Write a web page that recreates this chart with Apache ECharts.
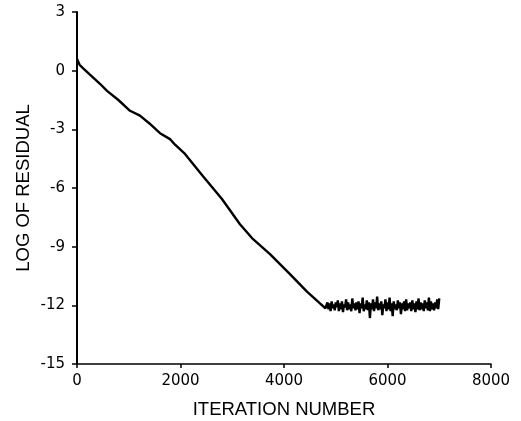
<!DOCTYPE html>
<html>
<head>
<meta charset="utf-8">
<script src="https://cdn.jsdelivr.net/npm/echarts@6/dist/echarts.min.js"></script>
<style>
  html, body { margin: 0; padding: 0; background: #fff; }
  #chart { width: 521px; height: 421px; }
</style>
</head>
<body>
<div id="chart"></div>
<script>
// decay part of the residual curve
var decayIter = [0, 50, 120, 250, 444, 580, 800, 1024, 1217, 1400, 1604, 1797, 1900, 2087,
  2435, 2801, 3149, 3381, 3729, 4115, 4444, 4695, 4800]
var decayLog = [0.6, 0.3, 0.12, -0.2, -0.67, -1.03, -1.5, -2.05, -2.3, -2.7, -3.2, -3.5, -3.8, -4.26,
  -5.4, -6.56, -7.85, -8.56, -9.38, -10.4, -11.3, -11.9, -12.15]

// noisy plateau after convergence
var plateauIter = [
  4820, 4840, 4860, 4880, 4900, 4920, 4940, 4960, 4980, 5000,
  5020, 5040, 5060, 5080, 5100, 5120, 5140, 5160, 5180, 5200,
  5220, 5240, 5260, 5280, 5300, 5320, 5340, 5360, 5380, 5400,
  5420, 5440, 5460, 5480, 5500, 5520, 5540, 5560, 5580, 5600,
  5620, 5640, 5660, 5680, 5700, 5720, 5740, 5760, 5780, 5800,
  5820, 5840, 5860, 5880, 5900, 5920, 5940, 5960, 5980, 6000,
  6020, 6040, 6060, 6080, 6100, 6120, 6140, 6160, 6180, 6200,
  6220, 6240, 6260, 6280, 6300, 6320, 6340, 6360, 6380, 6400,
  6420, 6440, 6460, 6480, 6500, 6520, 6540, 6560, 6580, 6600,
  6620, 6640, 6660, 6680, 6700, 6720, 6740, 6760, 6780, 6800,
  6820, 6840, 6860, 6880, 6900, 6920, 6940, 6960, 6980, 7000]
var plateauLog = [
  -12.25, -11.85, -12.2, -11.9, -12.3, -11.8, -12.15, -11.95, -12.25, -11.85,
  -12.1, -11.75, -12.3, -11.9, -12.2, -11.8, -12.35, -11.95, -12.1, -11.7,
  -12.25, -11.85, -12.2, -11.95, -12.3, -11.65, -12.15, -11.9, -12.25, -11.85,
  -12.2, -11.8, -12.4, -11.9, -12.15, -11.6, -12.3, -11.95, -12.2, -11.75,
  -12.25, -11.85, -12.65, -11.9, -12.2, -11.7, -12.3, -11.85, -12.15, -11.55,
  -12.25, -11.9, -12.2, -11.8, -12.5, -11.95, -12.15, -11.7, -12.3, -11.85,
  -12.2, -11.6, -12.3, -11.9, -12.55, -11.8, -12.2, -11.95, -12.25, -11.75,
  -12.15, -11.85, -12.45, -11.9, -12.2, -11.8, -12.3, -11.7, -12.25, -11.9,
  -12.15, -11.85, -12.3, -11.75, -12.2, -11.9, -12.35, -11.8, -12.2, -11.65,
  -12.25, -11.85, -12.2, -11.9, -12.3, -11.75, -12.15, -11.85, -12.25, -11.6,
  -12.3, -11.8, -12.2, -11.9, -12.25, -11.85, -12.15, -11.7, -12.2, -11.65]

var xTicks = [0, 2000, 4000, 6000, 8000]
var yTicks = [3, 0, -3, -6, -9, -12, -15]

var iters = decayIter.concat(plateauIter)
var logs = decayLog.concat(plateauLog)
var points = iters.map(function (x, i) { return [x, logs[i]] })

var chart = echarts.init(document.getElementById('chart'))
var tickFont = 'DejaVu Sans, Arial, sans-serif'
var nameFont = 'Liberation Sans, Arial, Helvetica, sans-serif'

chart.setOption({
  animation: false,
  grid: { left: 77, right: 30, top: 12, bottom: 57, outerBoundsMode: 'none' },
  xAxis: {
    type: 'value',
    min: xTicks[0],
    max: xTicks[xTicks.length - 1],
    interval: 2000,
    name: 'ITERATION NUMBER',
    nameLocation: 'middle',
    nameGap: 36,
    nameMoveOverlap: false,
    nameTextStyle: { color: '#000', fontSize: 18.5, fontFamily: nameFont },
    axisLine: { onZero: false, lineStyle: { color: '#000', width: 1.5 } },
    axisTick: { length: 4, lineStyle: { color: '#000', width: 1.5 } },
    axisLabel: {
      color: '#000', fontSize: 15, fontFamily: tickFont, margin: 10,
      formatter: function (v) { return String(v) }
    },
    splitLine: { show: false }
  },
  yAxis: {
    type: 'value',
    min: yTicks[yTicks.length - 1],
    max: yTicks[0],
    interval: 3,
    name: 'LOG OF RESIDUAL',
    nameLocation: 'middle',
    nameGap: 44,
    nameMoveOverlap: false,
    nameTextStyle: { color: '#000', fontSize: 18.5, fontFamily: nameFont },
    axisLine: { lineStyle: { color: '#000', width: 2 } },
    axisTick: { length: 5, lineStyle: { color: '#000', width: 1.5 } },
    axisLabel: { color: '#000', fontSize: 15, fontFamily: tickFont, margin: 12 },
    splitLine: { show: false }
  },
  series: [{
    type: 'line',
    data: points,
    showSymbol: false,
    lineStyle: { color: '#000', width: 2.4 }
  }]
})
</script>
</body>
</html>
